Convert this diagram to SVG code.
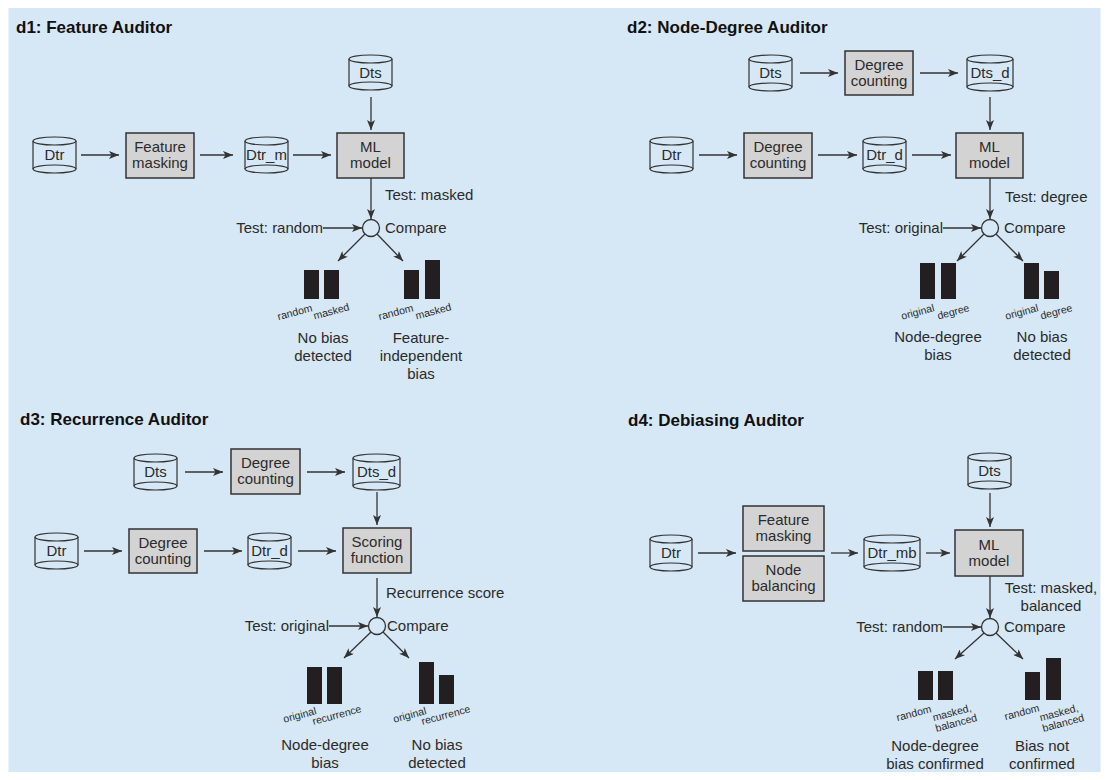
<svg xmlns="http://www.w3.org/2000/svg" width="1109" height="780" viewBox="0 0 1109 780">
<style>
.bg{fill:#d6e7f5}
.cyl{fill:none;stroke:#333;stroke-width:1.2}
.box{fill:#d3d3d3;stroke:#333;stroke-width:1.5}
.cmp{fill:none;stroke:#333;stroke-width:1.3}
text{font-family:"Liberation Sans",Arial,sans-serif;fill:#2b2b2b}
.t{font-size:15px;text-anchor:middle}
.l{font-size:15px}
.o{font-size:15px;text-anchor:middle}
.s{font-size:10.5px;text-anchor:end}
.title{font-size:17px;font-weight:bold;fill:#111}
.e{fill:none;stroke:#333;stroke-width:1.3;marker-end:url(#ah)}
.bar{fill:#231f20}
</style>
<defs>
<marker id="ah" viewBox="0 0 10 8" refX="10" refY="4" markerWidth="10" markerHeight="8" markerUnits="userSpaceOnUse" orient="auto">
<path d="M0,0 L10,4 L0,8 L2.5,4 z" fill="#333"/>
</marker>
</defs>
<rect class="bg" x="8.5" y="8" width="1092" height="764"/>

<!-- titles -->
<text class="title" x="16" y="33">d1: Feature Auditor</text>
<text class="title" x="627" y="33">d2: Node-Degree Auditor</text>
<text class="title" x="20" y="425">d3: Recurrence Auditor</text>
<text class="title" x="628" y="426">d4: Debiasing Auditor</text>

<!-- d1 nodes -->
<g id="d1-dtr"><path class="cyl" d="M33,141V169M76,141V169"/><ellipse class="cyl" cx="54.5" cy="141" rx="21.5" ry="4"/><ellipse class="cyl" cx="54.5" cy="169" rx="21.5" ry="4"/><text class="t" x="54.5" y="160">Dtr</text></g>
<g id="d1-fm"><rect class="box" x="126" y="133" width="68" height="45"/><text class="t" x="160" y="152">Feature</text><text class="t" x="160" y="168">masking</text></g>
<g id="d1-dtrm"><path class="cyl" d="M245,141V169M288,141V169"/><ellipse class="cyl" cx="266.5" cy="141" rx="21.5" ry="4"/><ellipse class="cyl" cx="266.5" cy="169" rx="21.5" ry="4"/><text class="t" x="266.5" y="160">Dtr_m</text></g>
<g id="d1-dts"><path class="cyl" d="M349,59V86M392,59V86"/><ellipse class="cyl" cx="370.5" cy="59" rx="21.5" ry="4"/><ellipse class="cyl" cx="370.5" cy="86" rx="21.5" ry="4"/><text class="t" x="370.5" y="78">Dts</text></g>
<g id="d1-ml"><rect class="box" x="337" y="133" width="67" height="45"/><text class="t" x="370.5" y="152">ML</text><text class="t" x="370.5" y="168">model</text></g>
<g id="d1-cmp"><circle class="cmp" cx="371" cy="228" r="8.5"/><text class="l" x="385" y="233">Compare</text></g>
<g id="d1-labels"><text class="l" x="385" y="200">Test: masked</text><text class="l" x="323" y="233" text-anchor="end">Test: random</text></g>
<g id="d1-res1"><rect class="bar" x="304" y="270" width="15" height="29"/><rect class="bar" x="324" y="270" width="15" height="29"/>
<text class="s" transform="translate(313,311) rotate(-15)">random</text><text class="s" transform="translate(350,310) rotate(-15)">masked</text>
<text class="o" x="323" y="343">No bias</text><text class="o" x="323" y="361">detected</text></g>
<g id="d1-res2"><rect class="bar" x="404" y="270" width="15" height="29"/><rect class="bar" x="425" y="260" width="15" height="39"/>
<text class="s" transform="translate(414,311) rotate(-15)">random</text><text class="s" transform="translate(452,310) rotate(-15)">masked</text>
<text class="o" x="421" y="343">Feature-</text><text class="o" x="421" y="361">independent</text><text class="o" x="421" y="379">bias</text></g>

<!-- d2 nodes -->
<g id="d2-dts"><path class="cyl" d="M749,59V87M792,59V87"/><ellipse class="cyl" cx="770.5" cy="59" rx="21.5" ry="4"/><ellipse class="cyl" cx="770.5" cy="87" rx="21.5" ry="4"/><text class="t" x="770.5" y="78">Dts</text></g>
<g id="d2-dc1"><rect class="box" x="845" y="51" width="68" height="44"/><text class="t" x="879" y="69.5">Degree</text><text class="t" x="879" y="85.5">counting</text></g>
<g id="d2-dtsd"><path class="cyl" d="M967,59V87M1013,59V87"/><ellipse class="cyl" cx="990" cy="59" rx="23" ry="4"/><ellipse class="cyl" cx="990" cy="87" rx="23" ry="4"/><text class="t" x="990" y="78">Dts_d</text></g>
<g id="d2-dtr"><path class="cyl" d="M650,141V169M693,141V169"/><ellipse class="cyl" cx="671.5" cy="141" rx="21.5" ry="4"/><ellipse class="cyl" cx="671.5" cy="169" rx="21.5" ry="4"/><text class="t" x="671.5" y="160">Dtr</text></g>
<g id="d2-dc2"><rect class="box" x="744" y="133" width="68" height="45"/><text class="t" x="778" y="152">Degree</text><text class="t" x="778" y="168">counting</text></g>
<g id="d2-dtrd"><path class="cyl" d="M863,141V169M906,141V169"/><ellipse class="cyl" cx="884.5" cy="141" rx="21.5" ry="4"/><ellipse class="cyl" cx="884.5" cy="169" rx="21.5" ry="4"/><text class="t" x="884.5" y="160">Dtr_d</text></g>
<g id="d2-ml"><rect class="box" x="956" y="133" width="67" height="45"/><text class="t" x="989.5" y="152">ML</text><text class="t" x="989.5" y="168">model</text></g>
<g id="d2-cmp"><circle class="cmp" cx="990" cy="228" r="8.5"/><text class="l" x="1004" y="233">Compare</text></g>
<g id="d2-labels"><text class="l" x="1005" y="202">Test: degree</text><text class="l" x="943" y="233" text-anchor="end">Test: original</text></g>
<g id="d2-res1"><rect class="bar" x="920" y="263" width="15" height="36"/><rect class="bar" x="941" y="263" width="15" height="36"/>
<text class="s" transform="translate(935,311) rotate(-15)">original</text><text class="s" transform="translate(970,311) rotate(-15)">degree</text>
<text class="o" x="938" y="342">Node-degree</text><text class="o" x="938" y="360">bias</text></g>
<g id="d2-res2"><rect class="bar" x="1024" y="263" width="15" height="36"/><rect class="bar" x="1044" y="271" width="15" height="28"/>
<text class="s" transform="translate(1039,311) rotate(-15)">original</text><text class="s" transform="translate(1073,311) rotate(-15)">degree</text>
<text class="o" x="1042" y="342">No bias</text><text class="o" x="1042" y="360">detected</text></g>

<!-- d3 nodes -->
<g id="d3-dts"><path class="cyl" d="M134,458V486M177,458V486"/><ellipse class="cyl" cx="155.5" cy="458" rx="21.5" ry="4"/><ellipse class="cyl" cx="155.5" cy="486" rx="21.5" ry="4"/><text class="t" x="155.5" y="477">Dts</text></g>
<g id="d3-dc1"><rect class="box" x="231" y="449" width="69" height="45"/><text class="t" x="265.5" y="468">Degree</text><text class="t" x="265.5" y="484">counting</text></g>
<g id="d3-dtsd"><path class="cyl" d="M353,458V486M400,458V486"/><ellipse class="cyl" cx="376.5" cy="458" rx="23.5" ry="4"/><ellipse class="cyl" cx="376.5" cy="486" rx="23.5" ry="4"/><text class="t" x="376.5" y="477">Dts_d</text></g>
<g id="d3-dtr"><path class="cyl" d="M35,537V565M78,537V565"/><ellipse class="cyl" cx="56.5" cy="537" rx="21.5" ry="4"/><ellipse class="cyl" cx="56.5" cy="565" rx="21.5" ry="4"/><text class="t" x="56.5" y="556">Dtr</text></g>
<g id="d3-dc2"><rect class="box" x="129" y="529" width="68" height="44"/><text class="t" x="163" y="547.5">Degree</text><text class="t" x="163" y="563.5">counting</text></g>
<g id="d3-dtrd"><path class="cyl" d="M248,537V565M291,537V565"/><ellipse class="cyl" cx="269.5" cy="537" rx="21.5" ry="4"/><ellipse class="cyl" cx="269.5" cy="565" rx="21.5" ry="4"/><text class="t" x="269.5" y="556">Dtr_d</text></g>
<g id="d3-sf"><rect class="box" x="343" y="528" width="68" height="45"/><text class="t" x="377" y="547">Scoring</text><text class="t" x="377" y="563">function</text></g>
<g id="d3-cmp"><circle class="cmp" cx="377" cy="626" r="8.5"/><text class="l" x="387" y="631">Compare</text></g>
<g id="d3-labels"><text class="l" x="386" y="598">Recurrence score</text><text class="l" x="329" y="631" text-anchor="end">Test: original</text></g>
<g id="d3-res1"><rect class="bar" x="307" y="667" width="15" height="37"/><rect class="bar" x="327" y="667" width="15" height="37"/>
<text class="s" transform="translate(317,714) rotate(-15)">original</text><text class="s" transform="translate(362,712) rotate(-15)">recurrence</text>
<text class="o" x="325" y="750">Node-degree</text><text class="o" x="325" y="768">bias</text></g>
<g id="d3-res2"><rect class="bar" x="419" y="662" width="15" height="42"/><rect class="bar" x="439" y="675" width="15" height="29"/>
<text class="s" transform="translate(427,714) rotate(-15)">original</text><text class="s" transform="translate(471,712) rotate(-15)">recurrence</text>
<text class="o" x="437" y="750">No bias</text><text class="o" x="437" y="768">detected</text></g>

<!-- d4 nodes -->
<g id="d4-dtr"><path class="cyl" d="M650,539V567M692,539V567"/><ellipse class="cyl" cx="671" cy="539" rx="21" ry="4"/><ellipse class="cyl" cx="671" cy="567" rx="21" ry="4"/><text class="t" x="671" y="558">Dtr</text></g>
<g id="d4-fm"><rect class="box" x="743" y="506" width="81" height="45"/><text class="t" x="783.5" y="525">Feature</text><text class="t" x="783.5" y="541">masking</text></g>
<g id="d4-nb"><rect class="box" x="743" y="556" width="81" height="45"/><text class="t" x="783.5" y="575">Node</text><text class="t" x="783.5" y="591">balancing</text></g>
<g id="d4-dtrmb"><path class="cyl" d="M864,539V567M920,539V567"/><ellipse class="cyl" cx="892" cy="539" rx="28" ry="4"/><ellipse class="cyl" cx="892" cy="567" rx="28" ry="4"/><text class="t" x="892" y="558">Dtr_mb</text></g>
<g id="d4-dts"><path class="cyl" d="M968,457V485M1011,457V485"/><ellipse class="cyl" cx="989.5" cy="457" rx="21.5" ry="4"/><ellipse class="cyl" cx="989.5" cy="485" rx="21.5" ry="4"/><text class="t" x="989.5" y="476">Dts</text></g>
<g id="d4-ml"><rect class="box" x="955" y="530" width="68" height="46"/><text class="t" x="989" y="549.5">ML</text><text class="t" x="989" y="565.5">model</text></g>
<g id="d4-cmp"><circle class="cmp" cx="990" cy="627" r="8.5"/><text class="l" x="1004" y="632">Compare</text></g>
<g id="d4-labels"><text class="o" x="1051" y="593">Test: masked,</text><text class="o" x="1051" y="611">balanced</text><text class="l" x="943" y="632" text-anchor="end">Test: random</text></g>
<g id="d4-res1"><rect class="bar" x="918" y="671" width="15" height="29"/><rect class="bar" x="938" y="671" width="15" height="29"/>
<text class="s" transform="translate(932,712) rotate(-15)">random</text><text class="s" transform="translate(972,711) rotate(-15)"><tspan x="0" y="0">masked,</tspan><tspan x="3" y="11">balanced</tspan></text>
<text class="o" x="935" y="751">Node-degree</text><text class="o" x="935" y="769">bias confirmed</text></g>
<g id="d4-res2"><rect class="bar" x="1025" y="672" width="15" height="28"/><rect class="bar" x="1046" y="658" width="15" height="42"/>
<text class="s" transform="translate(1040,711) rotate(-15)">random</text><text class="s" transform="translate(1079,711) rotate(-15)"><tspan x="0" y="0">masked,</tspan><tspan x="3" y="11">balanced</tspan></text>
<text class="o" x="1042" y="751">Bias not</text><text class="o" x="1042" y="769">confirmed</text></g>

<!-- connectors -->
<g id="connectors">
<path class="e" d="M81,155H119"/>
<path class="e" d="M200,155H233"/>
<path class="e" d="M293,155H331"/>
<path class="e" d="M371,97V130"/>
<path class="e" d="M371,178V219"/>
<path class="e" d="M323,228H362"/>
<path class="e" d="M365,234L338,261"/>
<path class="e" d="M377,234L403,261"/>

<path class="e" d="M800,73H838"/>
<path class="e" d="M920,73H958"/>
<path class="e" d="M990,97V130"/>
<path class="e" d="M699,155H737"/>
<path class="e" d="M818,155H857"/>
<path class="e" d="M912,155H951"/>
<path class="e" d="M990,178V219"/>
<path class="e" d="M943,228H981"/>
<path class="e" d="M984,234L957,261"/>
<path class="e" d="M996,234L1023,261"/>

<path class="e" d="M185,472H223"/>
<path class="e" d="M307,472H345"/>
<path class="e" d="M377,492V525"/>
<path class="e" d="M84,551H122"/>
<path class="e" d="M204,551H242"/>
<path class="e" d="M298,551H336"/>
<path class="e" d="M377,578V617"/>
<path class="e" d="M329,626H368"/>
<path class="e" d="M371,632L344,658"/>
<path class="e" d="M383,632L409,658"/>

<path class="e" d="M698,553H736"/>
<path class="e" d="M831,553H858"/>
<path class="e" d="M926,553H950"/>
<path class="e" d="M990,493V527"/>
<path class="e" d="M990,576V618"/>
<path class="e" d="M943,627H981"/>
<path class="e" d="M984,633L955,659"/>
<path class="e" d="M996,633L1023,659"/>
</g>
</svg>
